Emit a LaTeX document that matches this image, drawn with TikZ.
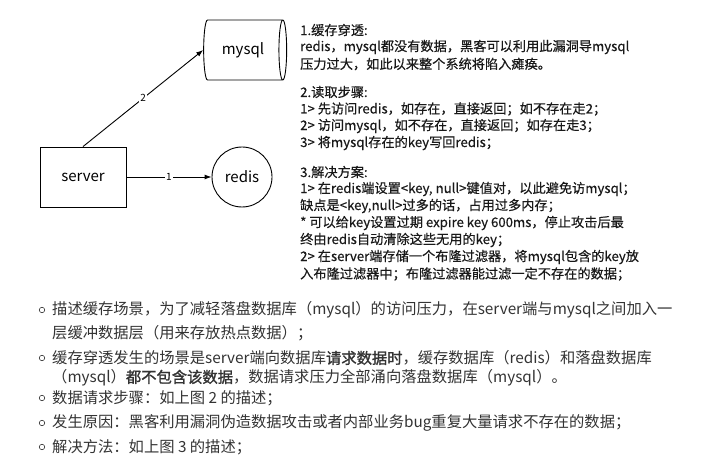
\documentclass[tikz,border=0pt]{standalone}
\usepackage{fontspec}
\setmainfont{Noto Sans CJK SC}
\newfontfamily\cjkbold[FakeBold=1.5]{Noto Sans CJK SC}
\newfontfamily\cjknote[FakeBold=0.4]{Noto Sans CJK SC}
\usetikzlibrary{positioning,shapes.geometric,arrows.meta}

\begin{document}
\begin{tikzpicture}[%
        x=1pt, y=-1pt,
        inner sep=0pt,
        box/.style={%
            draw, line width=0.9pt, font=\fontsize{15}{15}\selectfont,
        },
        link/.style={%
            draw, line width=0.9pt, -{Latex[length=7pt,width=5pt]},
        },
        linklabel/.style={%
            fill=white, inner sep=1pt, font=\fontsize{10}{10}\selectfont,
        },
        noteline/.style={%
            anchor=west, font=\cjknote\fontsize{13.2}{14}\selectfont, text=black!90,
        },
        itemline/.style={%
            anchor=west, font=\fontsize{15.3}{16}\selectfont, text=black!80,
        },
        bullet/.style={%
            draw=black!80, circle, minimum size=5.5pt, line width=0.6pt,
        },
    ]
    \useasboundingbox (0,0) rectangle (720,465);

    % diagram
    \node (server) at (83,177) [box, minimum width=86pt, minimum height=60pt] {server};
    \node (redis) at (242,177) [box, circle, minimum size=60pt] {redis};
    \node (mysql) at (243,50) [box, cylinder, shape aspect=0.5,
        minimum width=60pt, minimum height=83pt] {mysql};

    \draw [link] (server.east) -- node [linklabel] {1} (redis.west);
    \draw [link] (server.north) -- node [linklabel] {2} (mysql.west);

    % notes
    \node (note1) at (300,30) [noteline] {1.缓存穿透:};
    \node at (300,47) [noteline] {redis，mysql都没有数据，黑客可以利用此漏洞导mysql};
    \node at (300,64) [noteline] {压力过大，如此以来整个系统将陷入瘫痪。};
    \node (note2) at (300,92) [noteline] {2.读取步骤:};
    \node at (300,109) [noteline] {1> 先访问redis，如存在，直接返回；如不存在走2；};
    \node at (300,126) [noteline] {2> 访问mysql，如不存在，直接返回；如存在走3；};
    \node at (300,143) [noteline] {3> 将mysql存在的key写回redis；};
    \node (note3) at (300,172) [noteline] {3.解决方案:};
    \node at (300,189) [noteline] {1> 在redis端设置<key, null>键值对，以此避免访mysql；};
    \node at (300,206) [noteline] {缺点是<key,null>过多的话，占用过多内存；};
    \node at (300,223) [noteline] {* 可以给key设置过期 expire key 600ms，停止攻击后最};
    \node at (300,240) [noteline] {终由redis自动清除这些无用的key；};
    \node at (300,257) [noteline] {2> 在server端存储一个布隆过滤器，将mysql包含的key放};
    \node at (300,274) [noteline] {入布隆过滤器中；布隆过滤器能过滤一定不存在的数据；};

    % list
    \foreach \y in {310,358,398,423,447} {%
        \node at (42,\y) [bullet] {};
    }
    \node (item1) at (52,310) [itemline] {描述缓存场景，为了减轻落盘数据库（mysql）的访问压力，在server端与mysql之间加入一};
    \node at (52,333) [itemline] {层缓冲数据层（用来存放热点数据）；};
    \node (item2) at (52,358) [itemline] {缓存穿透发生的场景是server端向数据库{\cjkbold 请求数据时}，缓存数据库（redis）和落盘数据库};
    \node at (52,378) [itemline] {（mysql）{\cjkbold 都不包含该数据}，数据请求压力全部涌向落盘数据库（mysql）。};
    \node (item3) at (52,398) [itemline] {数据请求步骤：如上图 2 的描述；};
    \node (item4) at (52,423) [itemline] {发生原因：黑客利用漏洞伪造数据攻击或者内部业务bug重复大量请求不存在的数据；};
    \node (item5) at (52,447) [itemline] {解决方法：如上图 3 的描述；};
\end{tikzpicture}
\end{document}
